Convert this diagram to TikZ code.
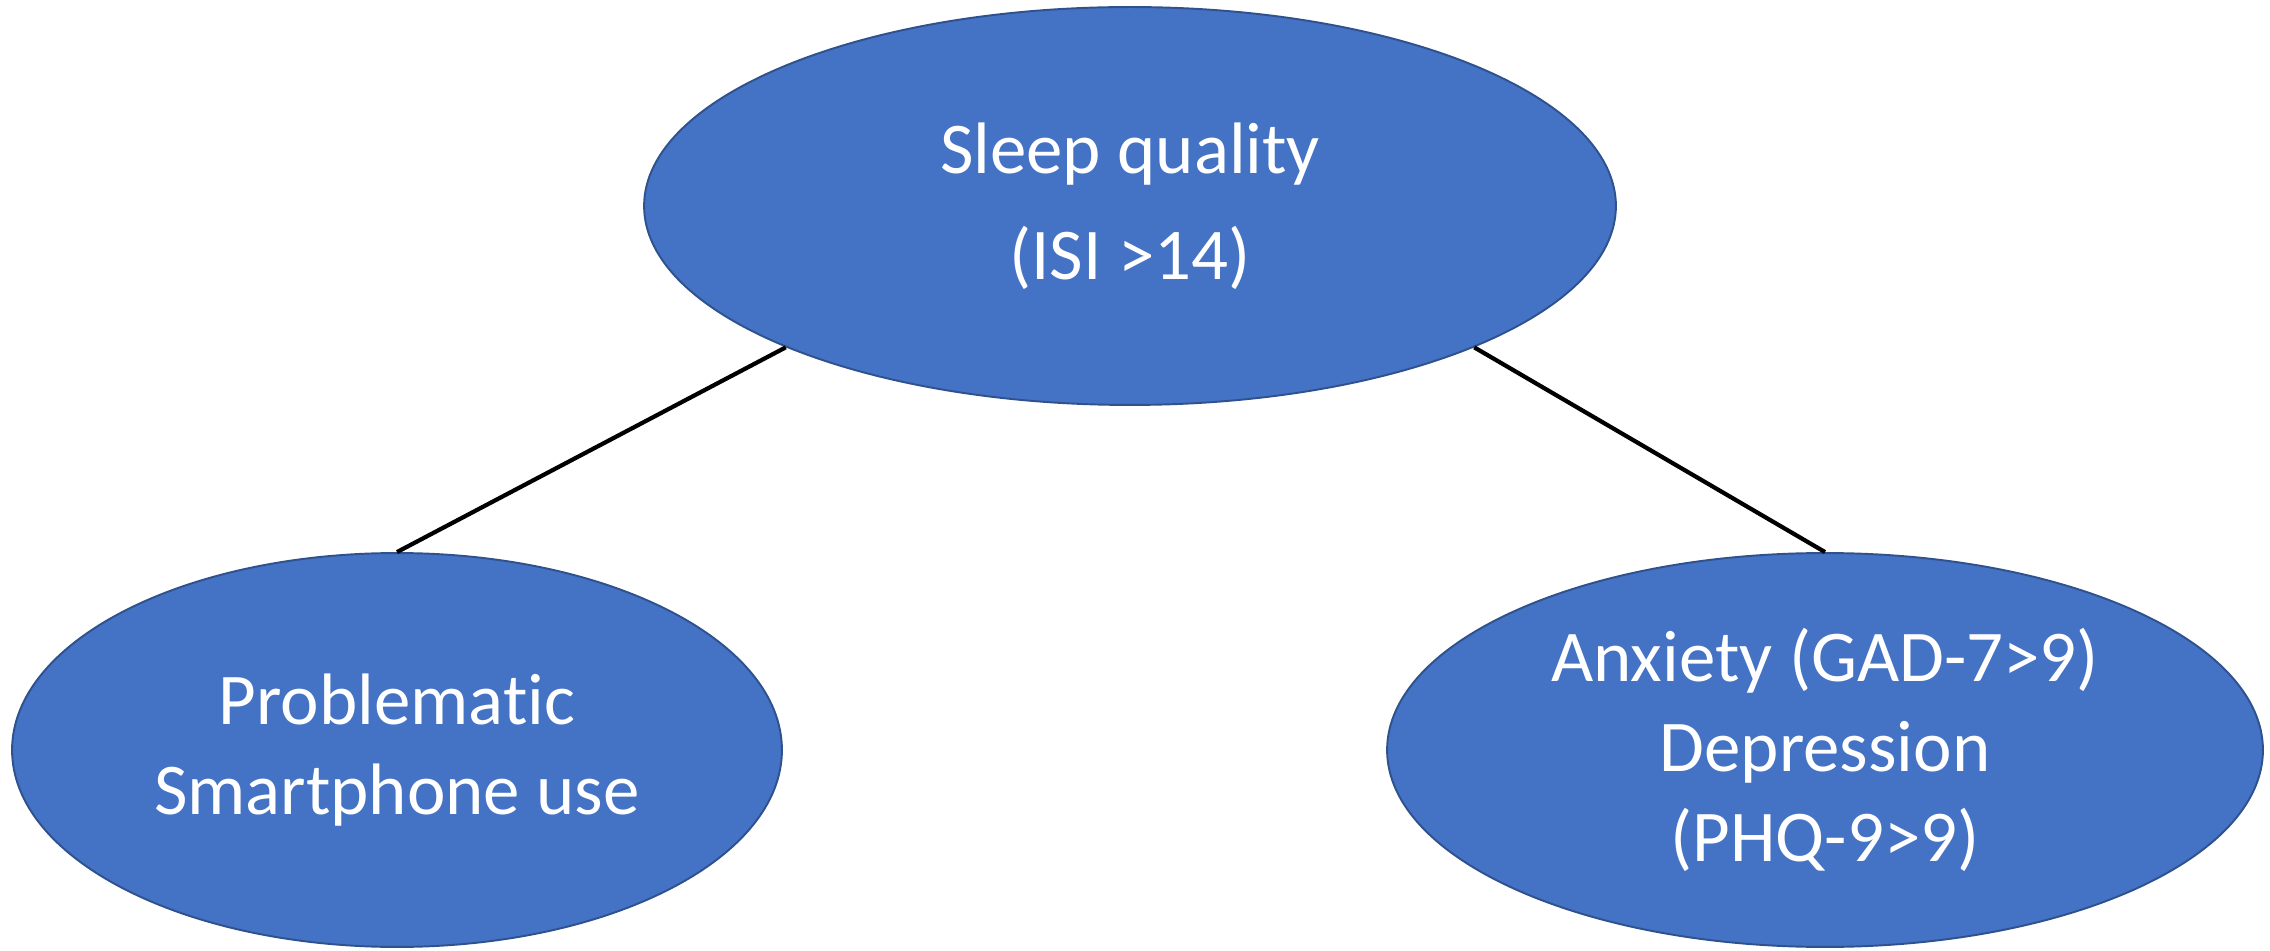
\documentclass[tikz,border=0pt]{standalone}
\usepackage{fontspec}
\setmainfont{Carlito}[Ligatures=NoCommon]
\usetikzlibrary{shapes.geometric}
\definecolor{officeblue}{RGB}{68,114,196}
\definecolor{officeedge}{RGB}{47,82,143}

\begin{document}
\begin{tikzpicture}[x=0.02cm, y=0.02cm,
    bubble/.style={ellipse, draw=officeedge, line width=1.1pt, fill=officeblue,
        text=white, inner sep=0pt, align=center, font=\fontsize{41.5}{51.2}\selectfont},
    link/.style={line width=2.4pt, black}]
    % Canvas
    \useasboundingbox (0,0) rectangle (2270,950);

    % Ellipses
    \node[bubble, minimum width=19.44cm, minimum height=7.96cm,
        font=\fontsize{41.5}{60.3}\selectfont] (sleep) at (1130,744) {Sleep quality\\(ISI >14)};
    \node[bubble, minimum width=15.4cm, minimum height=7.88cm] (phone) at (397,200) {Problematic\\Smartphone use};
    \node[bubble, minimum width=17.52cm, minimum height=7.88cm] (mood) at (1825,200) {Anxiety (GAD-7>9)\\Depression\\(PHQ-9>9)};

    % Links
    \draw[link] (sleep.south west) -- (phone.north);
    \draw[link] (sleep.south east) -- (mood.north);

\end{tikzpicture}
\end{document}
